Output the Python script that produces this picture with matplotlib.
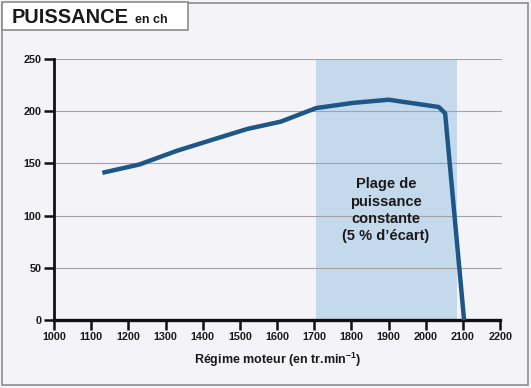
import matplotlib
matplotlib.use('Agg')

import matplotlib.pyplot as plt
from matplotlib.patches import Rectangle

# data
rpm = [1130, 1230, 1330, 1420, 1520, 1610, 1705, 1805, 1900, 2035, 2052, 2103]
power = [141, 149, 162, 172, 183, 190, 203, 208, 211, 204, 198, 0]
x_ticks = [1000, 1100, 1200, 1300, 1400, 1500, 1600, 1700, 1800, 1900, 2000, 2100, 2200]
y_ticks = [0, 50, 100, 150, 200, 250]
plage = (1705, 2085)

plt.rcParams['font.family'] = ['Liberation Sans', 'DejaVu Sans']

W, H = 531, 388
bg = '#f4f3f7'
fig = plt.figure(figsize=(W / 100, H / 100), dpi=100, facecolor=bg)

# outer frame and title box
fig.patches.append(Rectangle((2 / W, 3 / H), 526 / W, 382 / H, transform=fig.transFigure,
                             facecolor='none', edgecolor='#8c8c8c', linewidth=1.2))
fig.patches.append(Rectangle((2 / W, 1 - 30 / H), 186 / W, 28 / H, transform=fig.transFigure,
                             facecolor='white', edgecolor='#8c8c8c', linewidth=1.2))
fig.text(12 / W, 1 - 23 / H, 'PUISSANCE', fontsize=14.4, fontweight='bold', color='#1a1a1a',
         va='baseline', ha='left')
fig.text(135 / W, 1 - 23 / H, 'en ch', fontsize=9, fontweight='bold', color='#1a1a1a',
         va='baseline', ha='left')

ax = fig.add_axes([54 / W, 68 / H, 448 / W, 261 / H])
ax.set_facecolor(bg)
ax.set_xlim(1000, 2205)
ax.set_ylim(0, 250)

ax.axvspan(plage[0], plage[1], ymin=0, ymax=1, color='#c5d9ed', zorder=1, linewidth=0)
for y in y_ticks[1:]:
    ax.axhline(y, color='#a3a3a3', linewidth=0.8, zorder=1.5)

ax.plot(rpm, power, color='#1d5787', linewidth=3.2, solid_joinstyle='round',
        solid_capstyle='butt', zorder=3, clip_on=False)

ax.text(1893, 105, "Plage de\npuissance\nconstante\n(5 % d\u2019\u00e9cart)", ha='center', va='center',
        fontsize=10.5, fontweight='bold', color='#1a1a1a', linespacing=1.3, zorder=4)

for s in ['top', 'right']:
    ax.spines[s].set_visible(False)
ax.spines['left'].set_linewidth(2)
ax.spines['bottom'].set_linewidth(2.4)
ax.spines['bottom'].set_bounds(1000, 2200)
ax.spines['left'].set_color('#111111')
ax.spines['bottom'].set_color('#111111')

ax.set_xticks(x_ticks)
ax.set_yticks(y_ticks)
ax.tick_params(axis='both', direction='out', length=7, width=1.8, color='#111111',
               labelsize=7.8, labelcolor='#1a1a1a', pad=2)
for lab in ax.get_xticklabels() + ax.get_yticklabels():
    lab.set_fontweight('bold')

ax.set_xlabel(r'Régime moteur (en tr.min$^{\mathregular{-1}}$)', fontsize=9, fontweight='bold',
              color='#1a1a1a', labelpad=6)

fig.savefig('out.png', dpi=100, facecolor=bg)
